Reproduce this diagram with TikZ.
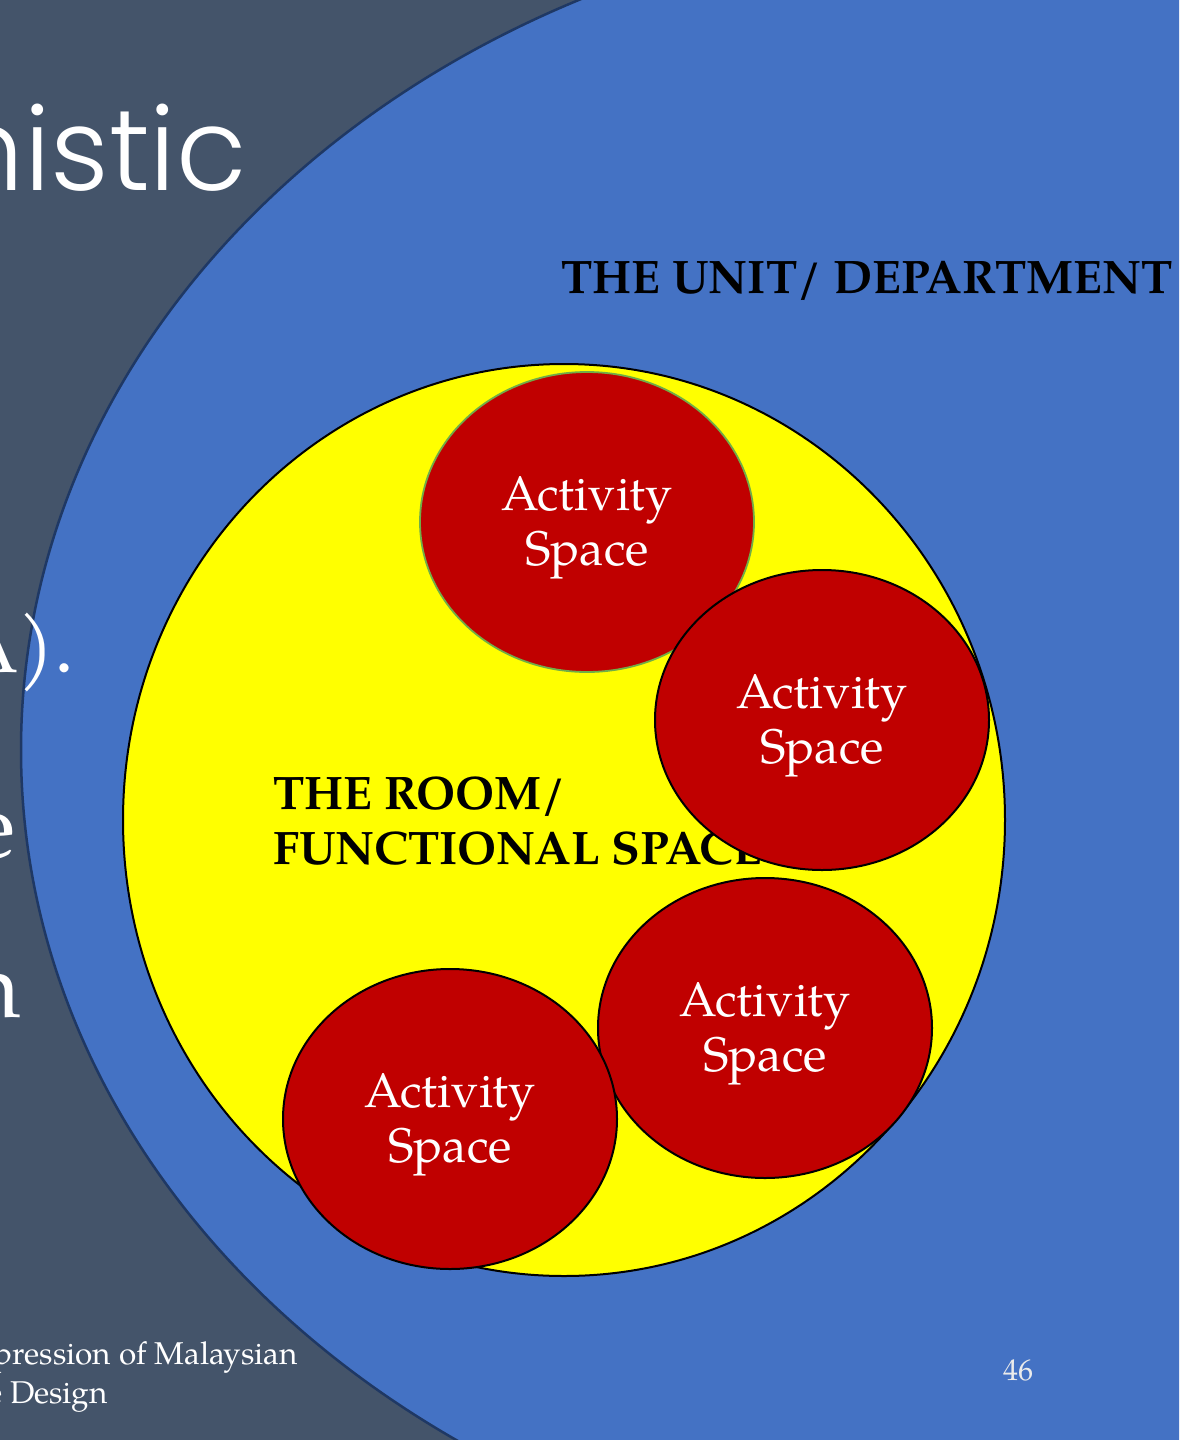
\documentclass[tikz,border=0pt]{standalone}
\usepackage{fontspec}
\setmainfont{texgyrepagella}[Extension=.otf, UprightFont=*-regular, BoldFont=*-bold, ItalicFont=*-italic, BoldItalicFont=*-bolditalic]
\newfontfamily\geofont{Poppins Light}
\usetikzlibrary{shapes.geometric}

\definecolor{slate}{HTML}{44546A}
\definecolor{unitblue}{HTML}{4472C4}
\definecolor{unitedge}{HTML}{1F3864}
\definecolor{roomyellow}{HTML}{FFFF00}
\definecolor{actred}{HTML}{C00000}
\definecolor{actgreen}{HTML}{70AD47}

\tikzset{
  unitshape/.style={ellipse, draw=unitedge, fill=unitblue, line width=2.5pt, inner sep=0pt},
  roomshape/.style={ellipse, draw=black, fill=roomyellow, line width=2pt, inner sep=0pt},
  actshape/.style={ellipse, draw=black, fill=actred, line width=2pt, inner sep=0pt,
    minimum width=334pt, minimum height=300pt},
  actlabel/.style={text=white, align=center, inner sep=0pt, font=\fontsize{48.5}{55}\selectfont},
  heading/.style={text=black, inner sep=0pt, font=\fontsize{47}{55}\selectfont\bfseries},
  slidetext/.style={text=white, inner sep=0pt},
}

\begin{document}
\begin{tikzpicture}[x=1pt,y=-1pt]
\useasboundingbox (0,0) rectangle (1179,1440);
\clip (0,0) rectangle (1179,1440);

% slide background
\fill[slate] (0,0) rectangle (1179,1440);

% outer level: the unit / department
\node[unitshape, minimum width=2000pt, minimum height=1672pt] (unit) at (1021,750) {};
\node[heading, anchor=base west] (unittitle) at (561,293) {THE UNIT/ DEPARTMENT};

% middle level: the room
\node[roomshape, minimum width=882pt, minimum height=912pt] (room) at (564,820) {};
\node[heading, anchor=base west, align=left] (roomtitle) at (273,864) {THE ROOM/\\FUNCTIONAL SPACE};

% inner level: activity spaces
\node[actshape, draw=actgreen, line width=1.8pt] (act1) at (587,522) {};
\node[actlabel] at ([yshift=-6pt]act1.center) {Activity\\Space};

\node[actshape] (act2) at (822,720) {};
\node[actlabel] at ([yshift=-6pt]act2.center) {Activity\\Space};

\node[actshape] (act3) at (765,1028) {};
\node[actlabel] at ([yshift=-6pt]act3.center) {Activity\\Space};

\node[actshape] (act4) at (450,1119) {};
\node[actlabel] at ([yshift=-6pt]act4.center) {Activity\\Space};

% slide text running off the left edge
\node[slidetext, anchor=base east, font=\geofont\fontsize{115}{120}\selectfont] (title) at (247,190) {nistic};
\node[slidetext, anchor=base east, font=\fontsize{80}{84}\selectfont] (lineA) at (75,672) {A).};
\node[slidetext, anchor=base east, font=\fontsize{92}{96}\selectfont] (lineE) at (16,857) {e};
\node[slidetext, anchor=base east, font=\fontsize{92}{96}\selectfont] (lineN) at (21,1017) {n};

% footer and slide number
\node[slidetext, anchor=base east, font=\fontsize{31.5}{40}\selectfont] (foot1) at (298,1364) {pression of Malaysian};
\node[slidetext, anchor=base east, font=\fontsize{31.5}{40}\selectfont] (foot2) at (108,1403) {e Design};
\node[slidetext, text=white!92!black, anchor=base, font=\fontsize{30}{34}\selectfont] (pagenum) at (1018,1380) {46};
\end{tikzpicture}
\end{document}
